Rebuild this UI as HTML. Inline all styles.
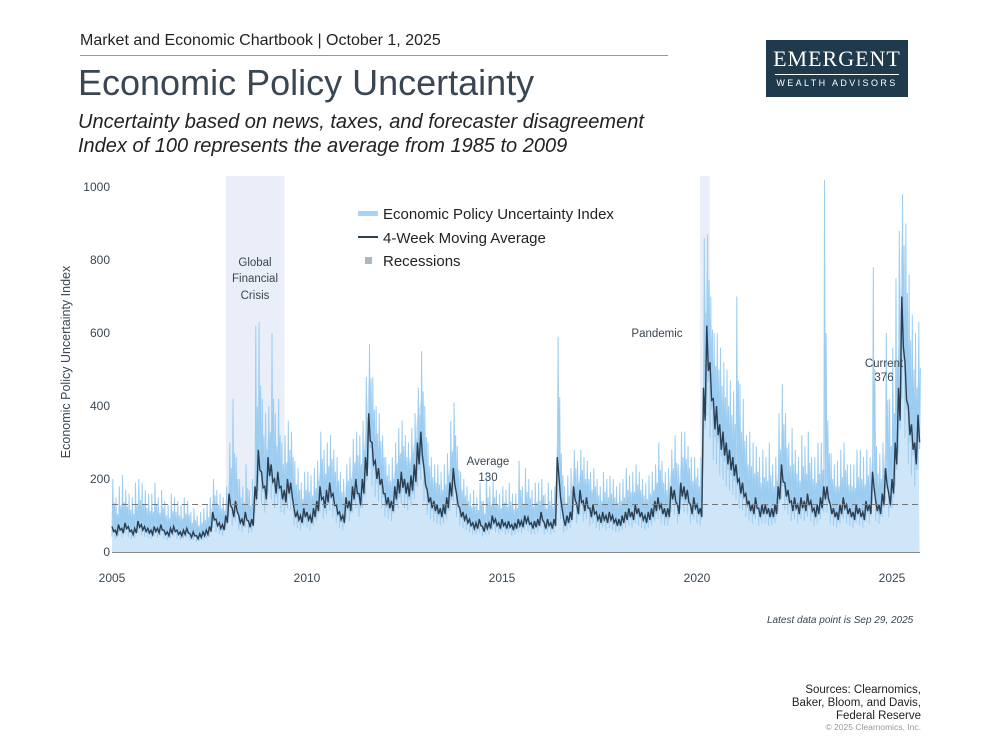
<!DOCTYPE html>
<html><head><meta charset="utf-8"><style>
body{margin:0;background:#fff;font-family:"Liberation Sans",sans-serif;}
#wrap{position:relative;width:1000px;height:750px;overflow:hidden;background:#fff}
.t{position:absolute;color:#3a4652;white-space:nowrap}
</style></head><body><div id="wrap">
<div class="t" style="left:80px;top:32px;font-size:16px;color:#222">Market and Economic Chartbook | October 1, 2025</div>
<div style="position:absolute;left:80px;top:55px;width:588px;height:1px;background:#999"></div>
<div class="t" style="left:78px;top:62px;font-size:36px">Economic Policy Uncertainty</div>
<div class="t" style="left:78px;top:110px;font-size:20px;font-style:italic;color:#222;line-height:24px">Uncertainty based on news, taxes, and forecaster disagreement<br>Index of 100 represents the average from 1985 to 2009</div>
<div style="position:absolute;left:766px;top:40px;width:142px;height:57px;background:#1f3a4d;color:#fff;text-align:center;overflow:hidden">
<div style="font-size:22px;letter-spacing:1px;margin-top:6px;font-family:'Liberation Serif',serif">EMERGENT</div>
<div style="width:124px;height:1px;background:#fff;margin:2px auto 3px"></div>
<div style="font-size:9px;letter-spacing:2.4px">WEALTH ADVISORS</div></div>
<svg id="chart" width="1000" height="750" style="position:absolute;left:0;top:0"></svg>
<div class="t" style="left:767px;top:615px;font-size:10px;font-style:italic">Latest data point is Sep 29, 2025</div>
<div class="t" style="right:79px;top:684px;font-size:11.5px;color:#222;text-align:right;line-height:13px">Sources: Clearnomics,<br>Baker, Bloom, and Davis,<br>Federal Reserve</div>
<div class="t" style="right:79px;top:722px;font-size:8.5px;color:#999">© 2025 Clearnomics, Inc.</div>
</div>
<script>
const years=[2005,2006,2007,2008,2009,2010,2011,2012,2013,2014,2015,2016,2017,2018,2019,2020,2021,2022,2023,2024,2025];
const maValues=[
[70,60,75,65,80,70,60,65,85,75,70,65],
[60,70,65,75,60,55,65,70,60,55,60,65],
[50,55,45,50,55,60,70,110,90,80,75,100],
[160,120,140,100,90,110,85,90,180,280,220,180],
[260,240,200,220,180,170,200,190,120,110,100,120],
[110,100,120,140,180,150,170,190,160,130,110,100],
[150,140,180,200,160,200,260,380,300,250,230,200],
[160,150,140,180,200,220,200,190,210,240,300,330],
[230,170,150,140,130,120,130,150,190,230,160,120],
[110,100,90,80,80,90,70,80,80,100,90,80],
[90,80,85,75,80,90,85,100,95,80,85,90],
[110,80,90,80,90,260,150,90,100,110,180,130],
[170,140,150,120,130,110,100,110,100,110,100,90],
[90,100,110,120,110,130,120,110,100,110,120,140],
[150,130,120,120,180,170,130,190,180,170,130,150],
[130,120,450,620,520,420,400,350,330,300,280,260],
[240,200,190,160,140,130,150,120,130,130,120,120],
[130,180,240,190,170,140,150,130,150,140,160,140],
[120,130,150,180,180,130,120,110,130,150,130,120],
[110,130,120,110,140,130,220,140,130,160,230,160],
[200,300,450,700,520,400,350,300,376]];
const peakValues=[
[200,150,180,210,170,160,150,190,200,190,170,160],
[160,190,150,170,140,130,160,150,140,130,150,140],
[110,120,100,110,120,130,150,200,170,160,150,180],
[300,420,260,200,180,240,170,200,620,630,420,380],
[400,600,380,420,300,320,360,330,250,230,190,220],
[220,210,230,250,330,280,300,320,280,260,220,200],
[240,260,310,330,320,360,480,570,480,400,380,320],
[260,240,260,300,340,360,320,300,340,380,450,550],
[400,300,260,240,240,220,240,270,360,410,290,220],
[200,180,160,170,150,190,140,220,180,200,170,160],
[180,170,190,160,160,250,180,230,200,170,190,190],
[200,160,190,170,180,590,270,180,210,230,280,250],
[280,260,250,220,230,200,180,220,200,210,200,180],
[190,200,230,210,220,240,220,200,190,210,220,240],
[300,250,220,230,280,320,240,330,330,290,260,260],
[230,260,860,870,700,600,600,560,520,500,470,440],
[700,460,420,320,330,300,290,260,280,260,300,240],
[260,380,460,380,300,340,280,260,320,290,330,260],
[260,300,300,1020,360,270,240,250,280,300,240,240],
[240,280,280,260,280,260,780,290,270,300,600,420],
[560,750,880,980,900,760,650,600,630]];
const yTicks=[0,200,400,600,800,1000];
const xTicks=[2005,2010,2015,2020,2025];
const recessions=[[2007.92,2009.42],[2020.08,2020.33]];
const averageValue=130;
const X=t=>112+(t-2005)*39;
const Y=v=>552-v*0.365;
const svg=document.getElementById('chart');
const NS='http://www.w3.org/2000/svg';
function mk(tag,attrs,parent){const e=document.createElementNS(NS,tag);for(const k in attrs)e.setAttribute(k,attrs[k]);(parent||svg).appendChild(e);return e;}
recessions.forEach(r=>{const e=mk('rect',{x:X(r[0]),y:176,width:X(r[1])-X(r[0]),height:376,fill:'#e9eef8'});

});
const pts=[];years.forEach((yr,i)=>maValues[i].forEach((m,j)=>pts.push({t:yr+j/12,ma:m,pk:peakValues[i][j]})));
const last=pts[pts.length-1].t;
let d='M'+X(2005)+','+Y(0);
pts.forEach(p=>{d+=' L'+X(p.t).toFixed(1)+','+Y(p.ma*1.25).toFixed(1);});
d+=' L'+X(last+1/24)+','+Y(0)+'Z';
const area=mk('path',{d:d,fill:'#cfe5f8'});


let z='';
pts.forEach((p,i)=>{const x=X(p.t);z+=(i?' L':'M')+x.toFixed(1)+','+Y(p.ma*0.6).toFixed(1)+' L'+(x+0.8).toFixed(1)+','+Y(p.pk).toFixed(1)+' L'+(x+1.6).toFixed(1)+','+Y(p.ma*0.75).toFixed(1)+' L'+(x+2.4).toFixed(1)+','+Y((p.pk+p.ma)/2).toFixed(1);});
const idx=mk('path',{d:z,fill:'none',stroke:'#9ccdf1','stroke-width':1});


let m='';
pts.forEach((p,i)=>{const x=X(p.t);m+=(i?' L':'M')+x.toFixed(1)+','+Y(p.ma).toFixed(1)+' L'+(x+1.6).toFixed(1)+','+Y(p.ma*0.8).toFixed(1);});
const mal=mk('path',{d:m,fill:'none',stroke:'#2c3e50','stroke-width':1.4});


const av=mk('line',{x1:112,x2:920,y1:Y(averageValue),y2:Y(averageValue),stroke:'#777','stroke-dasharray':'6,4','stroke-width':1});


const ax=mk('line',{x1:112,x2:920,y1:552.5,y2:552.5,stroke:'#888','stroke-width':1});


function txt(s,x,y,a,sz,col){const e=mk('text',{x:x,y:y,'text-anchor':a,'font-size':sz,fill:col||'#3a4652','font-family':'Liberation Sans, sans-serif'});e.textContent=s;return e;}
yTicks.forEach(v=>{const e=txt(v,110,Y(v)+4,'end',12);

});
xTicks.forEach(v=>{const e=txt(v,X(v),582,'middle',12);

});
const yt=txt('Economic Policy Uncertainty Index',0,0,'middle',12.5);
yt.setAttribute('transform','translate(70,362) rotate(-90)');


[['Global',266],['Financial',282],['Crisis',299]].forEach(a=>{const e=txt(a[0],255,a[1],'middle',11.5);

});
[['Pandemic',657,337],['Average',488,465],['130',488,481],['Current',884,367],['376',884,381]].forEach(a=>{const e=txt(a[0],a[1],a[2],'middle',11.5);

});
const lg=mk('g',{});


mk('rect',{x:358,y:211,width:20,height:5,fill:'#a9d3f3'},lg);
mk('line',{x1:358,x2:378,y1:237,y2:237,stroke:'#2c3e50','stroke-width':2},lg);
mk('rect',{x:365,y:257,width:7,height:7,fill:'#aab8c2'},lg);
[['Economic Policy Uncertainty Index',219],['4-Week Moving Average',243],['Recessions',266]].forEach(a=>{const e=txt(a[0],383,a[1],'start',15,'#222');lg.appendChild(e);

});
</script></body></html>
